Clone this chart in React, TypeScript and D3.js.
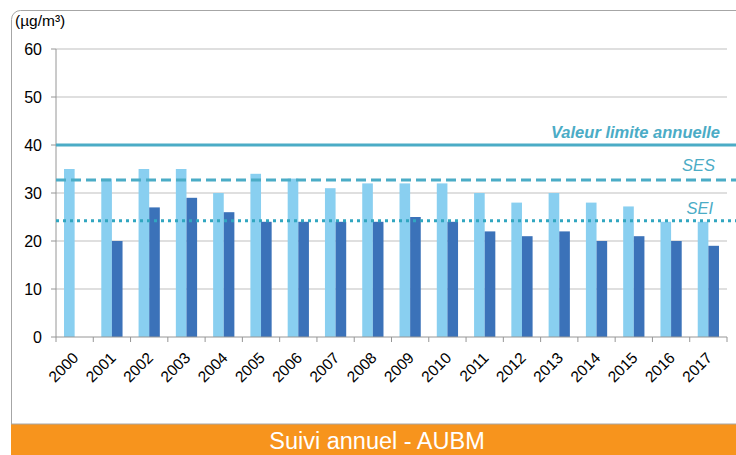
import React from "react";
import * as d3 from "d3";

// annual means (µg/m³)
const years = ["2000","2001","2002","2003","2004","2005","2006","2007","2008","2009","2010","2011","2012","2013","2014","2015","2016","2017"];
const seriesA = [35, 33, 35, 35, 30, 34, 33, 31, 32, 32, 32, 30, 28, 30, 28, 27.2, 24, 24];
const seriesB = [null, 20, 27, 29, 26, 24, 24, 24, 24, 25, 24, 22, 21, 22, 20, 21, 20, 19];
const yTicks = [0, 10, 20, 30, 40, 50, 60];
const limitValue = 40;
const sesValue = 32.7;
const seiValue = 24.2;

const W = 736, H = 455;
const margin = { left: 56, right: 9, top: 49, bottom: 118 };
const refColor = "#4BACC6";
const font = "Liberation Sans, Arial, sans-serif";

export default function App() {
  const x0 = d3.scaleBand<string>()
    .domain(years)
    .range([margin.left, W - margin.right])
    .paddingInner(0.43)
    .paddingOuter(0.215);
  const x1 = d3.scaleBand<string>().domain(["a", "b"]).range([0, x0.bandwidth()]);
  const step = x0.step();
  const y = d3.scaleLinear().domain([0, 60]).range([H - margin.bottom, margin.top]);
  const plotRight = W - margin.right;
  const tickXs = d3.range(years.length + 1).map((i) => margin.left + i * step);

  return (
    <div style={{ position: "absolute", left: 0, top: 0 }}>
      <svg width={W} height={H} style={{ display: "block", fontFamily: font }}>
        <rect x={11.5} y={10.5} width={740} height={460} rx={9} fill="#fff" stroke="#A6A6A6" />
        <rect x={11} y={424} width={740} height={40} rx={10} fill="#F7941D" />
        <rect x={11} y={424} width={740} height={15} fill="#F7941D" />
        <line x1={11} x2={W} y1={424} y2={424} stroke="#A6A6A6" />
        <text x={377} y={449} fill="#fff" fontSize={23.5} textAnchor="middle">Suivi annuel - AUBM</text>

        <text x={15} y={26} fontSize={15.5} fill="#000">(µg/m³)</text>

        {yTicks.map((t) => (
          <g key={t}>
            {t > 0 && (
              <line x1={margin.left} x2={plotRight} y1={y(t)} y2={y(t)} stroke="#BFBFBF" strokeWidth={1} />
            )}
            <line x1={margin.left - 5} x2={margin.left} y1={y(t)} y2={y(t)} stroke="#969696" />
            <text x={42} y={y(t)} dy="0.35em" fontSize={16} textAnchor="end" fill="#000">{t}</text>
          </g>
        ))}

        {years.map((yr, i) => (
          <g key={yr}>
            <rect x={x0(yr)! + x1("a")!} y={y(seriesA[i])} width={x1.bandwidth()} height={y(0) - y(seriesA[i])} fill="#89CFF0" />
            {seriesB[i] != null && (
              <rect x={x0(yr)! + x1("b")!} y={y(seriesB[i] as number)} width={x1.bandwidth()} height={y(0) - y(seriesB[i] as number)} fill="#3B72B9" />
            )}
          </g>
        ))}

        <line x1={margin.left} x2={margin.left} y1={margin.top} y2={y(0)} stroke="#969696" />
        <line x1={margin.left} x2={plotRight} y1={y(0)} y2={y(0)} stroke="#969696" />
        {tickXs.map((tx, i) => (
          <line key={i} x1={tx} x2={tx} y1={y(0)} y2={y(0) + 5} stroke="#969696" />
        ))}
        {years.map((yr) => {
          const cx = x0(yr)! + x0.bandwidth() / 2 + 1;
          const cy = y(0) + 18;
          return (
            <text key={yr} x={cx} y={cy} fontSize={15.5} textAnchor="end" fill="#000"
              transform={`rotate(-45, ${cx}, ${cy})`} dy="0.35em">{yr}</text>
          );
        })}

        <line x1={margin.left} x2={plotRight + 9} y1={y(limitValue)} y2={y(limitValue)} stroke={refColor} strokeWidth={3} />
        <line x1={margin.left} x2={plotRight + 9} y1={y(sesValue)} y2={y(sesValue)} stroke={refColor} strokeWidth={3} strokeDasharray="10,5" />
        <line x1={margin.left} x2={plotRight + 9} y1={y(seiValue)} y2={y(seiValue)} stroke="#31A6C0" strokeWidth={3} strokeDasharray="3,4" />

        <text x={720} y={138} fontSize={16.5} fontWeight="bold" fontStyle="italic" textAnchor="end" fill={refColor}>Valeur limite annuelle</text>
        <text x={715} y={171} fontSize={16.5} fontStyle="italic" textAnchor="end" fill={refColor}>SES</text>
        <text x={713} y={214} fontSize={16.5} fontStyle="italic" textAnchor="end" fill={refColor}>SEI</text>
      </svg>
    </div>
  );
}
